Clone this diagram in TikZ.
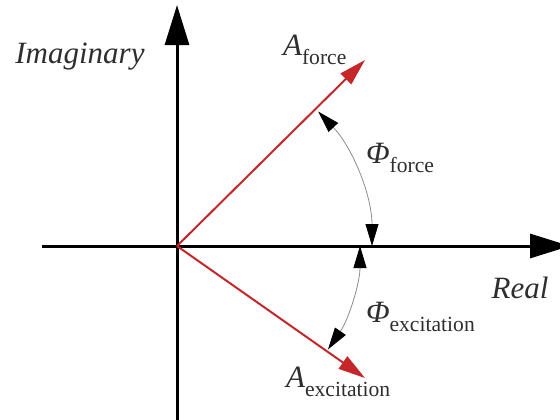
\documentclass[tikz,border=0pt]{standalone}
\usepackage{fontspec}
\setmainfont{Liberation Serif}
\usetikzlibrary{arrows.meta}
\tikzset{fasorpx/.style={x=0.5pt,y=-0.5pt,every node/.style={inner sep=0pt,outer sep=0pt}}}
\definecolor{fzeixo}{HTML}{000000}
\definecolor{fzvetor}{HTML}{C4262A}
\definecolor{fzarco}{HTML}{8C8C8C}
\definecolor{fztexto}{HTML}{2E2E2E}
\tikzset{
  eixo/.style={draw=fzeixo,line width=1.5pt,-{Triangle[length=20pt,width=12pt]}},
  vetor/.style={draw=fzvetor,line width=1pt,-{Triangle[length=13.5pt,width=7.5pt]}},
  angulo/.style={draw=fzarco,line width=0.4pt,{Triangle[length=11pt,width=6.5pt,color=black]}-{Triangle[length=11pt,width=6.5pt,color=black]}},
  rot/.style={font=\fontsize{15.5}{18}\selectfont,text=fztexto},
}
\newcommand{\fasor}[2]{\textit{#1}\raisebox{-4.5pt}{\fontsize{10.8}{12}\selectfont #2}}

\begin{document}
\begin{tikzpicture}[fasorpx]
  \clip (0,0) rectangle (560,419);
  % --- eixos
  \coordinate (O) at (177,246);
  \coordinate (reini) at (42,246);
  \coordinate (refim) at (570,246);
  \coordinate (imini) at (177,425);
  \coordinate (imfim) at (177,5);
  \draw[eixo] (reini) -- (refim);
  \draw[eixo] (imini) -- (imfim);
  \node[rot,anchor=base] (lblimag) at (80,63) {\textit{Imaginary}};
  \node[rot,anchor=base] (lblreal) at (520,298) {\textit{Real}};
  % --- fasores
  \coordinate (Af) at (365,60);
  \coordinate (Ae) at (365,378);
  \draw[vetor] (O) -- (Af);
  \draw[vetor] (O) -- (Ae);
  \node[rot,anchor=base west] (lblAf) at (283,55) {\fasor{A}{force}};
  \node[rot,anchor=base west] (lblAe) at (286,387) {\fasor{A}{excitation}};
  % --- angulos de fase
  \draw[angulo] ([shift={(0:195)}]O) arc[start angle=0,end angle=-43.6,radius=195];
  \draw[angulo] ([shift={(0:183)}]O) arc[start angle=0,end angle=34.4,radius=183];
  \node[rot,anchor=base west] (lblPf) at (366,163) {\fasor{Φ}{force}};
  \node[rot,anchor=base west] (lblPe) at (366,322) {\fasor{Φ}{excitation}};
\end{tikzpicture}
\end{document}
